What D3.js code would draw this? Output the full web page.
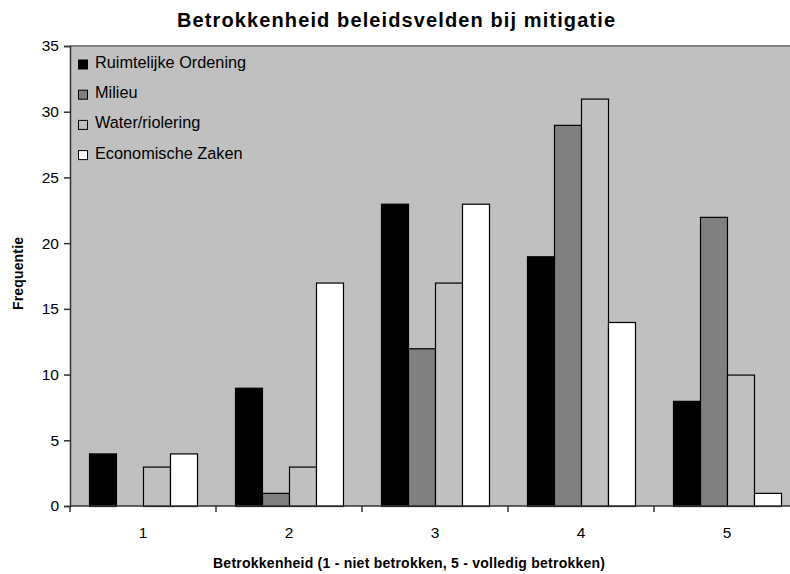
<!DOCTYPE html>
<html><head><meta charset="utf-8">
<script src="https://cdn.jsdelivr.net/npm/d3@7"></script>
<style>body{margin:0;background:#fff;} svg{display:block;font-family:"Liberation Sans",Arial,sans-serif;}</style>
</head><body><svg id="c" width="790" height="574"></svg>
<script>
const categories = ["1","2","3","4","5"];
const seriesNames = ["Ruimtelijke Ordening","Milieu","Water/riolering","Economische Zaken"];
const ruimtelijkeOrdening = [4, 9, 23, 19, 8];
const milieu = [0, 1, 12, 29, 22];
const waterRiolering = [3, 3, 17, 31, 10];
const economischeZaken = [4, 17, 23, 14, 1];
const seriesColors = ["#000000","#808080","#c0c0c0","#ffffff"];
const yTicks = [0,5,10,15,20,25,30,35];
const seriesValues = [ruimtelijkeOrdening, milieu, waterRiolering, economischeZaken];

const svg = d3.select("#c");
const L = 70, R = 800, T = 46, B = 506;
const x = d3.scaleBand().domain(categories).range([L, R]).paddingInner(0).paddingOuter(0);
const inner = d3.scaleBand().domain(d3.range(4)).range([19, x.bandwidth() - 19]).padding(0);
const y = d3.scaleLinear().domain([0, 35]).range([B, T]);

svg.append("rect").attr("x", L).attr("y", T).attr("width", R - L).attr("height", B - T).attr("fill", "#c0c0c0");
svg.append("line").attr("x1", L).attr("x2", R).attr("y1", T).attr("y2", T).attr("stroke", "#808080").attr("stroke-width", 2);

const data = [];
categories.forEach((c, i) => seriesValues.forEach((s, j) => data.push({c, j, v: s[i]})));
svg.append("g").selectAll("rect").data(data.filter(d => d.v > 0)).join("rect")
  .attr("x", d => x(d.c) + inner(d.j) + 0.5)
  .attr("y", d => y(d.v) + 0.5)
  .attr("width", inner.bandwidth())
  .attr("height", d => y(0) - y(d.v))
  .attr("fill", d => seriesColors[d.j])
  .attr("stroke", "#000").attr("stroke-width", 1.2);

// y axis
const ya = svg.append("g").attr("transform", `translate(${L},0)`)
  .call(d3.axisLeft(y).tickValues(yTicks).tickSize(6).tickPadding(5));
ya.select(".domain").attr("stroke", "#333").attr("stroke-width", 1.5);
ya.selectAll(".tick line").attr("stroke", "#333").attr("stroke-width", 1.5);
ya.selectAll(".tick text").attr("font-size", 15.5).attr("fill", "#000").attr("font-family", "Liberation Sans, Arial, sans-serif");

// x axis
const xa = svg.append("g").attr("transform", `translate(0,${B})`);
xa.append("line").attr("x1", L).attr("x2", R).attr("stroke", "#333").attr("stroke-width", 1.5);
const boundaries = categories.map(c => x(c));
xa.selectAll("line.t").data(boundaries).join("line").attr("class", "t")
  .attr("x1", d => d).attr("x2", d => d).attr("y1", 0).attr("y2", 6).attr("stroke", "#333").attr("stroke-width", 1.5);
xa.selectAll("text").data(categories).join("text")
  .attr("x", d => x(d) + x.bandwidth() / 2).attr("y", 32)
  .attr("text-anchor", "middle").attr("font-size", 15.5).text(d => d);

// legend
const lg = svg.append("g");
seriesNames.forEach((n, i) => {
  const cy = 64.5 + i * 30.2;
  lg.append("rect").attr("x", 78.5).attr("y", cy - 4.5).attr("width", 9).attr("height", 9)
    .attr("fill", seriesColors[i]).attr("stroke", "#000").attr("stroke-width", 1);
  lg.append("text").attr("x", 95).attr("y", cy + 3.5).attr("font-size", 16.3).text(n);
});

// titles
svg.append("text").attr("x", 396).attr("y", 27).attr("text-anchor", "middle")
  .attr("font-size", 20).attr("font-weight", "bold")
  .attr("textLength", 438).attr("lengthAdjust", "spacing")
  .text("Betrokkenheid beleidsvelden bij mitigatie");
svg.append("text").attr("x", 409).attr("y", 568).attr("text-anchor", "middle")
  .attr("font-size", 14).attr("font-weight", "bold")
  .attr("textLength", 392).attr("lengthAdjust", "spacing")
  .text("Betrokkenheid (1 - niet betrokken, 5 - volledig betrokken)");
svg.append("text").attr("transform", "translate(23,273.5) rotate(-90)").attr("text-anchor", "middle")
  .attr("font-size", 14).attr("font-weight", "bold")
  .attr("textLength", 73).attr("lengthAdjust", "spacing")
  .text("Frequentie");
</script></body></html>
